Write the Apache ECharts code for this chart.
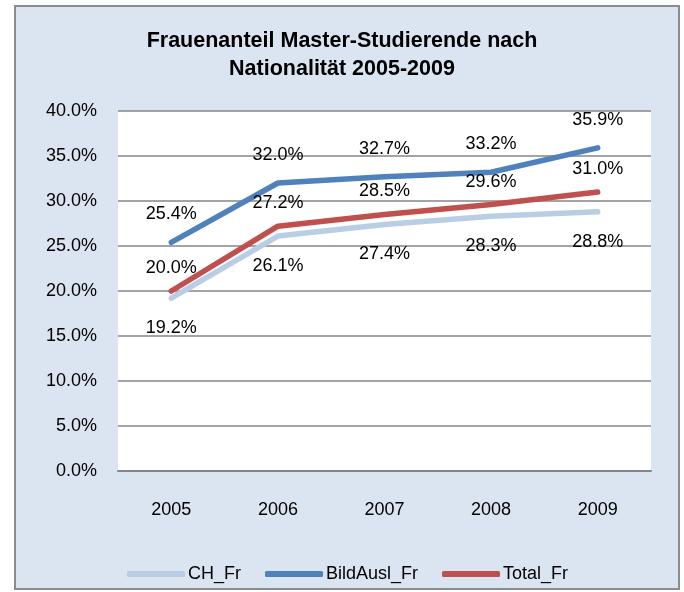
<!DOCTYPE html>
<html>
<head>
<meta charset="utf-8">
<script src="https://cdn.jsdelivr.net/npm/echarts@6/dist/echarts.min.js"></script>
<style>
  html, body { margin: 0; padding: 0; background: #ffffff; }
  #chart { width: 684px; height: 592px; }
</style>
</head>
<body>
<div id="chart"></div>
<script>
// Jahre und Werte (Frauenanteil in %)
const years = ['2005', '2006', '2007', '2008', '2009'];
const chFr = [19.2, 26.1, 27.4, 28.3, 28.8];
const bildAuslFr = [25.4, 32.0, 32.7, 33.2, 35.9];
const totalFr = [20.0, 27.2, 28.5, 29.6, 31.0];

const pct = (v) => Number(v).toFixed(1) + '%';
const font = 'Arial, "Liberation Sans", sans-serif';

const dom = echarts.init(document.getElementById('chart'), null, { renderer: 'canvas' });

const lineSeries = (name, data, color, pos, dist) => ({
    name: name,
    type: 'line',
    data: data,
    symbol: 'circle',
    symbolSize: 0,
    showSymbol: true,
    lineStyle: { width: 5.5, color: color, cap: 'round', join: 'round' },
    itemStyle: { color: color },
    label: {
        show: true,
        position: pos,
        distance: dist,
        formatter: (p) => pct(p.value),
        color: '#000',
        fontSize: 18,
        fontFamily: font
    },
    emphasis: { disabled: true },
    z: 3
});

dom.setOption({
    backgroundColor: '#ffffff',
    animation: false,
    graphic: [{
        type: 'rect',
        shape: { x: 15, y: 6, width: 664, height: 583 },
        style: { fill: '#dbe5f1', stroke: '#8c8c8c', lineWidth: 2 },
        z: -10
    }],
    title: {
        text: 'Frauenanteil Master-Studierende nach\nNationalität 2005-2009',
        left: 'center',
        top: 22,
        textStyle: { fontSize: 21.5, fontWeight: 'bold', color: '#000', fontFamily: font, lineHeight: 28 }
    },
    legend: {
        bottom: 4,
        left: 122,
        itemWidth: 58,
        itemHeight: 6,
        itemGap: 24,
        icon: 'roundRect',
        textStyle: { fontSize: 18, color: '#000', fontFamily: font, padding: [0, 0, 0, -2] },
        data: ['CH_Fr', 'BildAusl_Fr', 'Total_Fr']
    },
    grid: {
        left: 118, right: 33, top: 111, bottom: 121,
        show: true, backgroundColor: '#ffffff', borderWidth: 0
    },
    xAxis: {
        type: 'category',
        data: years,
        axisLine: { lineStyle: { color: '#868686', width: 2 } },
        axisTick: { show: false },
        axisLabel: { margin: 30, fontSize: 18, color: '#000', fontFamily: font }
    },
    yAxis: {
        type: 'value',
        min: 0, max: 40, interval: 5,
        axisLine: { show: false },
        axisTick: { show: false },
        axisLabel: { margin: 21, fontSize: 18, color: '#000', fontFamily: font, formatter: pct },
        splitLine: { lineStyle: { color: '#868686', width: 1.5 } }
    },
    series: [
        lineSeries('CH_Fr', chFr, '#b9cde5', 'bottom', 21),
        lineSeries('BildAusl_Fr', bildAuslFr, '#4f81bd', 'top', 19),
        lineSeries('Total_Fr', totalFr, '#c0504d', 'top', 14)
    ]
});
</script>
</body>
</html>
